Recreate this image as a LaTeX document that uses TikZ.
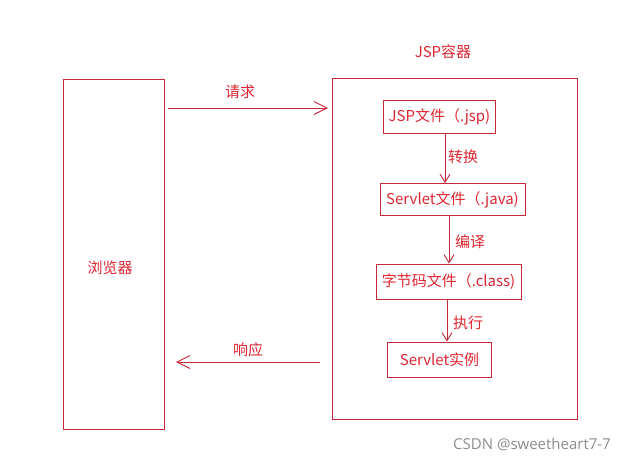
\documentclass[tikz,border=0pt]{standalone}
\usepackage{fontspec}
\setmainfont{Noto Sans CJK SC}
\newfontfamily\wmfont{Open Sans}
\usetikzlibrary{arrows.meta}
\definecolor{lred}{RGB}{200,40,58}
\definecolor{tred}{RGB}{222,38,50}
\tikzset{
  box/.style={draw=lred, line width=1pt, inner sep=0pt, text=tred, font=\fontsize{15}{17}\selectfont},
  arr/.style={draw=lred, line width=1pt, -{Straight Barb[length=8pt,width=10pt,line width=0.9pt]}},
  harr/.style={draw=lred, line width=1pt, -{Straight Barb[length=13pt,width=13pt,line width=0.9pt]}},
  lbl/.style={text=tred, font=\fontsize{15}{17}\selectfont, inner sep=0pt}
}
\begin{document}
\begin{tikzpicture}[x=1pt,y=-1pt]
\useasboundingbox (0,0) rectangle (629,461);
\node[box, minimum width=101pt, minimum height=350pt] (browser) at (113.5,254) {};
\node[lbl] at (110,268) {浏览器};
\node[box, minimum width=245pt, minimum height=341pt] (cont) at (454.5,248.5) {};
\node[lbl] at (443,52) {JSP容器};
\node[box, minimum width=112pt, minimum height=33pt] (jsp) at (439.5,116.5) {JSP文件（.jsp)};
\node[box, minimum width=145pt, minimum height=32pt] (sv) at (452.5,199.5) {Servlet文件（.java)};
\node[box, minimum width=145pt, minimum height=35pt] (bc) at (448.5,281.5) {字节码文件（.class)};
\node[box, minimum width=104pt, minimum height=35pt] (inst) at (439.5,359.5) {Servlet实例};
\draw[arr] (jsp.south -| 445,0) -- (sv.north -| 445,0);
\node[lbl] at (463,157) {转换};
\draw[arr] (sv.south -| 449,0) -- (bc.north -| 449,0);
\node[lbl] at (470,242) {编译};
\draw[arr] (bc.south -| 447,0) -- (inst.north -| 447,0);
\node[lbl] at (468,323) {执行};
\coordinate (reqs) at (168,108);
\coordinate (reqe) at (328,108);
\draw[harr] (reqs) -- (reqe);
\node[lbl] at (240,92) {请求};
\coordinate (ress) at (320,362);
\coordinate (rese) at (176,362);
\draw[harr] (ress) -- (rese);
\node[lbl] at (248,350) {响应};
\node[text=black!45, font=\wmfont\fontsize{15}{17}\selectfont, inner sep=0pt] at (532,444) {CSDN @sweetheart7-7};
\end{tikzpicture}
\end{document}
